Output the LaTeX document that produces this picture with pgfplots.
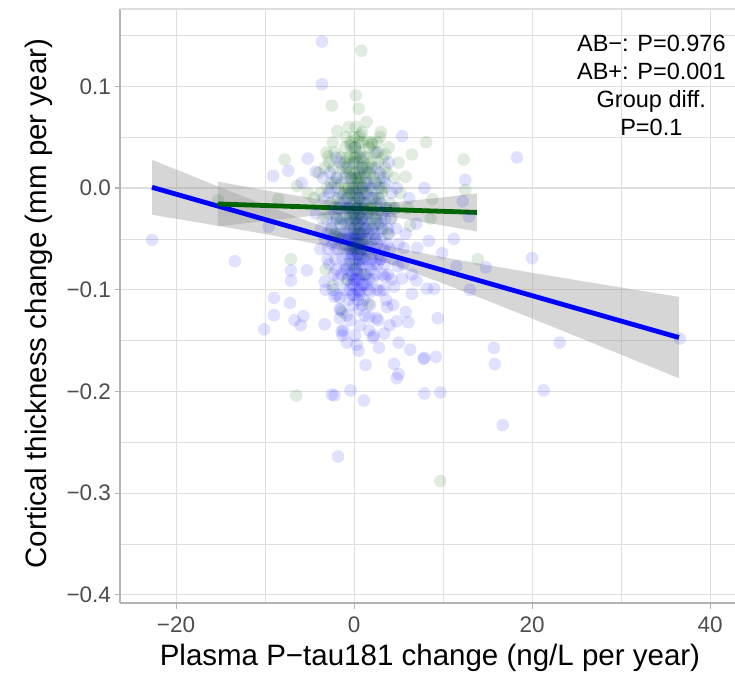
\documentclass[border=0pt]{standalone}
\usepackage{pgfplots}
\pgfplotsset{compat=1.18}
\usepackage{fontspec}
\setmainfont{Liberation Sans}
\definecolor{grid87}{HTML}{DEDEDE}
\definecolor{gray70}{HTML}{B3B3B3}
\definecolor{gray30}{HTML}{4D4D4D}
\definecolor{band}{HTML}{999999}
\definecolor{abneg}{HTML}{006400}

\begin{document}
\begin{tikzpicture}
\begin{axis}[
    scale only axis, width=615pt, height=594pt,
    xmin=-26.3, xmax=42.8, ymin=-0.408, ymax=0.176,
    axis x line*=bottom, axis y line*=left,
    axis line style={gray70, line width=1.3pt},
    tick align=outside, major tick length=5.5pt, minor tick length=0pt,
    tick style={gray70, line width=1.1pt},
    xtick={-20,0,20,40}, xticklabels={−20,0,20,40},
    ytick={-0.4,-0.3,-0.2,-0.1,0,0.1},
    yticklabels={−0.4,−0.3,−0.2,−0.1,0.0,0.1},
    minor xtick={-10,10,30},
    minor ytick={-0.35,-0.25,-0.15,-0.05,0.05,0.15},
    grid=both,
    major grid style={grid87, line width=1.1pt},
    minor grid style={grid87, line width=0.6pt},
    ticklabel style={font=\fontsize{22.5}{27}\selectfont, text=gray30},
    xticklabel style={yshift=-5pt},
    xlabel={Plasma P−tau181 change (ng/L per year)},
    ylabel={Cortical thickness change (mm per year)},
    label style={font=\fontsize{29.5}{35}\selectfont},
    xlabel style={at={(axis description cs:0.504,-0.106)}, anchor=base},
    ylabel style={at={(axis description cs:-0.1203,0.504)}, anchor=base},
]
\coordinate (sw) at (rel axis cs:0,0);
\draw[grid87, line width=1.1pt] (rel axis cs:0,1) -- (rel axis cs:1,1);

% AB+ points
\addplot[only marks, mark=*, mark size=6.3pt,
    mark options={fill=blue, draw=blue, fill opacity=0.12, draw opacity=0}] coordinates {
(-3.6,0.144) (-3.6,0.102) (5.4,0.051) (-22.7,-0.051) (-13.4,-0.072) (-9.1,0.012)
(-7.4,0.017) (-5.2,0.029) (-4.3,0.016) (-5.9,0.005) (-9.6,-0.038)
(-7.1,-0.081) (-5.3,-0.081) (-7.1,-0.091) (-3.3,-0.092) (-9.0,-0.108) (-7.2,-0.113)
(-9.0,-0.125) (-5.7,-0.126) (-6.7,-0.130) (-6.0,-0.135) (-10.1,-0.139) (-3.3,-0.134)
(-2.5,-0.203) (18.3,0.030) (12.5,0.008) (7.9,0.0) (12.2,-0.013) (12.9,-0.028)
(8.4,-0.052) (11.2,-0.050) (9.9,-0.064) (20.0,-0.069) (14.8,-0.078) (11.5,-0.077)
(9.0,-0.099) (13.0,-0.100) (9.4,-0.128) (36.6,-0.148) (23.1,-0.152) (15.7,-0.157)
(7.9,-0.167) (9.2,-0.166) (15.8,-0.173) (21.3,-0.199) (7.9,-0.202) (9.7,-0.201)
(16.7,-0.233) (-1.6,-0.128) (-1.4,-0.141) (-0.8,-0.152) (0.3,-0.154) (2.1,-0.147)
(3.4,-0.143) (5.0,-0.152) (2.8,-0.157) (6.3,-0.159) (7.8,-0.168) (1.3,-0.174)
(4.5,-0.173) (5.0,-0.183) (4.8,-0.187) (-0.4,-0.199) (-2.2,-0.204) (1.1,-0.209)
(-1.8,-0.264) (2.5,-0.128) (3.7,-0.117) (5.8,-0.122) (6.1,-0.132) (4.8,-0.131)
(6.5,-0.104) (4.5,-0.097) (5.4,-0.089) (7.0,-0.091) (3.5,-0.088) (4.9,-0.077)
(5.6,-0.059) (7.1,-0.059) (8.2,-0.099) (2.9,-0.101) (1.8,-0.102) (0.5,-0.102)
(-1.6,-0.108) (-2.2,-0.107) (-1.6,-0.119) (1.7,-0.127) (-1.3,-0.145)
(0.2,-0.02) (0.5,-0.035) (-0.3,-0.05) (1.0,-0.045) (0.8,-0.06) (-0.5,-0.03)
(1.5,-0.025) (0.1,-0.07) (-1.0,-0.055) (2.0,-0.04) (0.6,-0.01) (-0.2,0.0)
(1.2,0.005) (0.4,-0.085) (-0.8,-0.08) (1.8,-0.065) (2.5,-0.02) (-1.5,-0.035)
(0.9,-0.095) (0.0,-0.105) (-0.6,-0.11) (1.4,-0.085) (2.2,-0.075) (3.0,-0.05)
(-2.0,-0.06) (-1.2,-0.015) (0.3,0.01) (1.6,0.015) (-0.9,0.02) (0.7,0.03)
(2.8,0.0) (3.5,-0.03) (-2.5,-0.02) (-1.8,-0.09) (0.5,-0.12) (1.1,-0.11)
(-0.4,-0.13) (2.6,-0.1) (3.2,-0.085) (4.0,-0.06) (4.5,-0.02) (-3.0,-0.045)
(-2.8,-0.075) (0.0,-0.04) (0.2,-0.055) (0.9,-0.03) (-0.1,-0.065) (1.3,-0.05)
(0.6,-0.075) (-0.7,-0.045) (1.9,-0.055) (0.4,-0.045) (-0.2,-0.085) (1.0,-0.07)
(0.1,-0.09) (1.7,-0.09) (-1.3,-0.07) (2.3,-0.06) (0.8,-0.015) (0.0,-0.025)
(-0.5,-0.015) (1.4,-0.005) (2.1,-0.01) (-1.1,-0.1) (0.3,-0.1) (1.2,-0.125)
(-0.3,-0.095) (2.9,-0.07) (3.8,-0.04) (4.2,-0.09) (5.0,-0.055) (5.5,-0.075)
(-3.5,0.01) (-2.2,0.005) (-1.6,0.025) (0.1,0.04) (1.0,0.02) (2.4,0.02)
(3.3,0.01) (4.8,0.0) (5.8,-0.045) (6.2,-0.01) (-0.8,-0.125) (0.7,-0.135)
(1.8,-0.115) (2.7,-0.13) (3.6,-0.11) (-1.5,-0.12) (-2.4,-0.1) (0.2,-0.005)
(0.5,-0.05) (0.0,-0.06) (0.3,-0.03) (-0.1,-0.045) (0.7,-0.04) (1.1,-0.02)
(-0.6,-0.06) (0.9,-0.05) (0.4,-0.065) (-0.4,-0.04) (1.5,-0.04) (0.6,-0.025)
(0.2,-0.08) (1.3,-0.07) (-0.9,-0.035) (2.0,-0.025) (-0.2,-0.025) (0.8,-0.085)
(-0.1,-0.115) (1.6,-0.1) (-3.2,-0.1) (-3.8,-0.06) (4.4,-0.115) (6.5,-0.085)
(7.0,-0.035) (-4.3,-0.025) (2.5,0.035) (-1.0,0.01) (0.0,0.025) (3.9,0.025)
(-2.0,0.03) (1.7,-0.14) (0.1,-0.145) (-1.2,-0.14) (2.2,-0.145) (4.0,-0.135)
(0.5,-0.16)
(0.1,-0.03) (0.4,-0.02) (0.7,-0.055) (1.0,-0.035) (-0.3,-0.035) (-0.6,-0.05)
(1.3,-0.03) (0.2,-0.045) (0.5,-0.065) (0.9,-0.075) (-0.1,-0.075) (0.3,-0.06)
(1.2,-0.06) (-0.4,-0.06) (0.6,-0.045) (1.6,-0.05) (-0.8,-0.065) (0.0,-0.015)
(0.5,-0.01) (1.0,-0.005) (-0.5,-0.005) (0.8,-0.03) (1.8,-0.035) (-1.2,-0.045)
(0.3,-0.09) (-0.2,-0.105) (0.7,-0.1) (1.4,-0.095) (-0.7,-0.09) (2.2,-0.045)
(2.6,-0.055) (-1.7,-0.06) (0.0,-0.08) (1.1,-0.085) (-0.9,-0.075) (0.4,-0.11)
(1.9,-0.08) (-1.4,-0.085) (0.2,0.0) (0.9,0.0) (-0.3,0.01) (1.5,0.005)
(0.6,0.015) (2.0,0.0) (-1.0,-0.02) (0.1,-0.05) (0.8,-0.065) (0.4,-0.035)
(-0.2,-0.055) (1.2,-0.015) (0.6,-0.09) (-0.5,-0.1) (1.7,-0.075) (2.4,-0.085)
(-1.9,-0.03) (3.0,-0.07) (2.7,-0.035) (-2.3,-0.05) (0.0,-0.095) (0.9,-0.115)
(-2.6,-0.04) (-2.1,-0.07) (-1.7,-0.02) (-1.4,-0.05) (-1.1,-0.08) (-0.8,-0.01)
(-0.6,-0.085) (-2.9,-0.06) (-2.3,-0.085) (-1.9,-0.105) (2.4,-0.05) (2.8,-0.065)
(3.1,-0.04) (3.4,-0.075) (3.7,-0.055) (2.1,-0.09) (2.6,-0.075) (3.3,-0.1)
(1.9,-0.01) (2.5,-0.03) (3.0,-0.015) (-1.5,-0.005) (-2.0,-0.045) (-0.9,-0.05)
(-0.4,-0.07) (1.5,-0.06) (1.1,-0.095) (0.6,-0.105) (-0.1,-0.09) (0.3,-0.075)
(2.0,-0.07) (1.7,-0.045) (-1.3,-0.03) (-0.7,-0.02) (0.8,-0.045) (1.3,-0.04)
(0.4,-0.055) (0.0,-0.05) (-0.3,-0.065) (0.7,-0.07)
(-3.4,-0.01) (-3.1,-0.03) (-2.8,-0.005) (-2.5,-0.055) (-2.2,-0.025) (-1.9,0.01)
(-3.3,-0.05) (-2.7,0.015) (-1.6,-0.045) (-2.4,-0.035) (2.7,-0.01) (3.0,-0.035)
(3.3,-0.06) (3.6,-0.02) (3.9,-0.045) (4.2,-0.005) (2.9,0.015) (3.5,0.005)
(4.4,-0.07) (4.1,-0.03) (2.6,-0.045) (3.2,-0.025) (-3.0,-0.07) (-2.0,-0.08)
(3.8,-0.085) (4.7,-0.04) (-3.7,-0.04) (-1.8,-0.01) (2.3,0.005) (-2.6,0.0)
};

% AB- points
\addplot[only marks, mark=*, mark size=6.3pt,
    mark options={fill=abneg, draw=abneg, fill opacity=0.12, draw opacity=0}] coordinates {
(0.8,0.135) (0.2,0.091) (-2.5,0.081) (0.5,0.078) (-1.9,0.056) (0.7,0.052)
(3.0,0.055) (8.1,0.045) (6.5,0.033) (12.3,0.028) (-7.8,0.028) (-2.9,0.031)
(-0.4,0.042) (2.0,0.043) (3.5,0.033) (-8.5,-0.011) (13.9,-0.070) (-7.1,-0.070)
(-3.2,-0.080) (-2.4,-0.096) (-6.5,-0.204) (9.7,-0.288) (5.8,0.011) (6.3,-0.037)
(8.8,-0.011) (-6.4,0.002) (-1.3,-0.122) (1.6,-0.114) (8.6,-0.030) (-15.3,-0.012)
(12.5,-0.002)
(0.0,-0.01) (0.5,0.0) (-0.5,-0.02) (1.0,-0.015) (0.3,0.015) (-0.2,0.025)
(0.8,0.01) (-1.0,0.0) (1.5,-0.005) (0.2,-0.03) (-0.6,-0.035) (1.2,-0.04)
(0.6,-0.025) (-0.3,-0.045) (2.0,-0.02) (-1.5,-0.015) (0.4,-0.05) (1.8,0.015)
(-0.8,0.03) (0.1,0.04) (2.5,0.005) (-2.0,0.01) (3.0,-0.03) (-2.5,-0.04)
(0.7,-0.06) (-1.2,-0.06) (1.4,0.03) (2.2,0.035) (-0.1,0.005) (0.3,-0.005)
(0.9,-0.03) (-0.4,0.01) (0.0,-0.025) (0.6,0.02) (1.1,0.0) (-0.7,-0.005)
(0.2,0.03) (1.6,-0.03) (-1.3,0.02) (2.8,-0.01) (3.5,0.02) (-3.0,0.0)
(-3.5,-0.03) (4.0,-0.015) (4.5,0.01) (0.5,-0.07) (-0.5,-0.075) (1.5,-0.065)
(2.4,-0.05) (-1.8,-0.05) (0.0,0.05) (1.0,0.045) (-1.0,0.04) (3.2,0.03)
(-2.2,0.035) (0.4,0.005) (0.9,0.02) (-0.2,-0.015) (0.1,-0.04) (1.3,0.01)
(-0.9,-0.025) (2.1,-0.04) (5.2,-0.005) (-4.0,0.015) (-4.5,-0.01) (5.0,0.025)
(3.8,-0.045) (2.6,0.045) (-2.8,0.025) (0.7,0.035) (-0.4,0.045) (1.7,0.04)
(-1.6,-0.03) (0.3,-0.08) (-0.8,-0.09) (1.2,-0.085) (0.0,-0.055) (6.0,-0.02)
(-5.2,-0.005) (0.2,0.06) (-0.6,0.06) (1.4,0.065) (2.9,0.05)
(0.2,-0.015) (0.6,-0.01) (-0.3,-0.005) (0.9,-0.02) (0.1,0.01) (-0.5,0.015)
(1.2,0.015) (0.4,0.025) (-0.1,-0.03) (0.7,0.005) (1.4,-0.015) (-0.8,-0.01)
(0.3,0.035) (-0.2,0.04) (1.0,0.03) (0.5,-0.04) (-0.6,0.0) (1.7,0.0)
(0.0,0.015) (0.8,-0.045) (-1.1,-0.035) (2.3,-0.01) (-1.4,0.005) (1.9,0.025)
(0.4,-0.02) (-0.4,-0.025) (1.1,-0.055) (0.6,0.045) (-0.9,0.05) (2.0,0.02)
(0.2,-0.06) (-0.1,0.0) (0.5,0.01) (1.3,-0.025) (-0.7,0.02) (2.6,-0.025)
(-1.9,-0.02) (0.9,0.055) (0.0,0.03) (1.6,0.045)
(-2.7,-0.015) (-2.3,0.02) (-1.8,0.0) (-1.5,0.03) (-1.2,-0.005) (-0.9,0.015)
(2.2,0.01) (2.7,0.025) (3.1,-0.005) (3.4,0.0) (2.4,-0.035) (1.8,-0.02)
(-2.0,-0.03) (-1.6,-0.045) (3.6,-0.02) (1.5,0.02) (1.1,0.025) (-0.5,0.03)
(0.3,-0.035) (0.8,-0.005) (1.3,-0.05) (-0.3,-0.06) (-1.0,0.025) (2.0,0.045)
(0.5,0.05)
(-3.3,0.02) (-2.9,-0.025) (-2.6,0.005) (-2.1,-0.01) (2.5,-0.015) (2.9,0.01)
(3.3,-0.04) (3.7,0.015) (4.2,-0.03) (-3.8,-0.005) (2.7,0.035) (-2.4,0.045)
(3.9,0.04) (4.6,-0.02) (-3.1,0.035) (2.2,-0.03) (-2.2,-0.045) (3.0,0.0)
};

% AB+ confidence band
\addplot[draw=none, fill=band, fill opacity=0.4] coordinates {
(-22.7,0.0277) (-15,0.0006) (-10,-0.0167) (-5,-0.0332) (0,-0.0479) (5,-0.0592)
(10,-0.0680) (15,-0.0758) (20,-0.0833) (25,-0.0906) (30,-0.0978) (36.5,-0.1070)
(36.5,-0.1870) (30,-0.1638) (25,-0.1460) (20,-0.1283) (15,-0.1108) (10,-0.0938)
(5,-0.0776) (0,-0.0639) (-5,-0.0536) (-10,-0.0453) (-15,-0.0376) (-22.7,-0.0263)
};
% AB- confidence band
\addplot[draw=none, fill=band, fill opacity=0.4] coordinates {
(-15.3,0.0063) (-10,-0.0022) (-5,-0.0097) (0,-0.0151) (5,-0.0136) (10,-0.0092)
(13.8,-0.0053) (13.8,-0.0427) (10,-0.0368) (5,-0.0294) (0,-0.0251) (-5,-0.0277)
(-10,-0.0324) (-15.3,-0.0377)
};

\addplot[blue, line width=4.8pt] coordinates {(-22.7,0.0007) (36.5,-0.147)};
\addplot[abneg, line width=4.8pt] coordinates {(-15.3,-0.0157) (13.8,-0.024)};

\node[align=center, anchor=north, inner sep=0pt,
    font=\fontsize{23.5}{28}\selectfont] at (axis cs:33.4,0.151)
    {AB−: P=0.976\\AB+: P=0.001\\Group diff.\\P=0.1};
\end{axis}
\pgfresetboundingbox
\path ([shift={(-120pt,-72pt)}]sw) rectangle ([shift={(615pt,603pt)}]sw);
\end{tikzpicture}
\end{document}
